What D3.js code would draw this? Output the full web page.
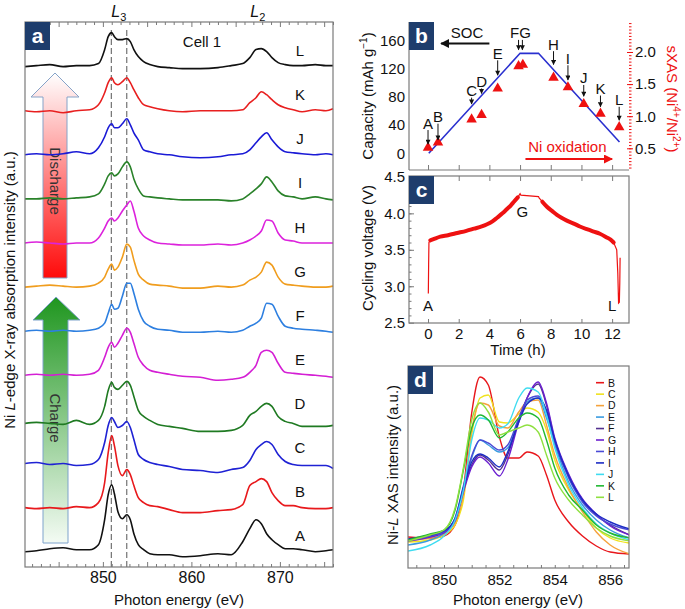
<!DOCTYPE html>
<html><head><meta charset="utf-8">
<script src="https://cdn.jsdelivr.net/npm/d3@7/dist/d3.min.js"></script>
<style>
body{margin:0;background:#fff}
svg{display:block}
text{font-family:"Liberation Sans",Arial,Helvetica,sans-serif;fill:#111}
</style>
</head><body>
<svg id="chart" width="685" height="609"></svg>
<script>
// ---------------- DATA ----------------
// Panel a: Ni L-edge sXAS spectra (intensity above own baseline, a.u.)
const energyA = [841.2, 842.5, 844, 845.5, 847, 848.5, 849.5, 850.2, 850.6, 851.0, 851.3, 851.7, 852.2, 852.7, 853.1, 853.5, 854.0, 854.6, 855.3, 856.2, 857.5, 859, 861, 863, 864.5, 865.8, 866.6, 867.3, 867.9, 868.5, 869.1, 869.8, 870.6, 871.5, 872.5, 874, 875.2, 876];
const specA = [0,1,3,4,2,2,7,32,57,67,58,40,33,37,32,18,7,2,-2,-3,-3,-5,-4,-2,-3,10,23,32,28,18,12,7,3,3,2,0,1,2];
const specB = [0,-1,0,-1,1,0,5,25,55,72,62,42,32,38,33,22,10,5,2,1,-2,-5,-5,-3,-2,3,22,26,29,26,15,7,2,2,0,-1,-1,0];
const specC = [0,1,-1,0,-2,-1,4,21,38,46,42,36,38,42,36,24,9,4,1,-1,-3,-6,-7,-9,-6,-4,3,14,19,22,19,9,2,-1,-2,-2,-2,-5];
const specD = [-4,-3,-4,-5,-1,-5,-1,13,29,37,32,30,34,38,34,23,9,3,-1,-5,-7,-9,-12,-12,-11,-6,4,8,13,16,13,3,-2,-4,-7,-7,-7,-6];
const specE = [0,1,0,1,0,1,5,18,28,33,28,32,40,47,43,32,18,10,5,3,1,-1,-2,-5,-4,-2,3,10,23,25,23,12,3,2,1,0,-1,-2];
const specF = [0,1,0,1,0,1,3,8,18,27,22,23,35,48,48,38,22,10,5,2,1,-1,-1,0,-1,1,5,8,13,28,27,15,5,3,2,1,0,-1];
const specG = [0,1,2,1,0,1,4,10,18,23,17,20,30,43,40,27,13,7,3,2,1,-1,-1,1,0,2,7,10,15,25,22,10,3,2,1,0,0,1];
const specH = [0,1,0,-1,0,0,5,15,22,25,22,25,32,38,42,32,15,7,3,0,-1,-2,-2,-1,-2,0,3,7,12,23,22,10,3,2,0,0,0,0];
const specI = [0,0,1,0,1,2,5,15,23,26,23,25,32,37,32,20,10,3,2,1,0,-1,-1,-1,-2,0,5,10,15,22,17,8,3,2,0,2,0,-1];
const specJ = [0,1,0,1,3,1,7,18,27,31,27,27,31,36,30,22,15,5,3,1,0,-2,-3,-2,0,1,5,12,18,22,15,8,3,2,1,0,1,0];
const specK = [0,-1,0,-2,0,1,6,18,28,33,28,26,29,33,28,21,13,6,4,2,0,-1,0,0,0,1,8,13,19,16,11,6,3,1,-1,1,0,2];
const specL = [0,1,2,0,1,1,3,17,30,34,30,27,27,28,25,17,10,5,2,0,-1,-2,-2,-1,1,3,9,17,18,15,9,4,2,1,1,2,1,1];
const spectraLabels = ["A","B","C","D","E","F","G","H","I","J","K","L"];
const spectraA = [specA, specB, specC, specD, specE, specF, specG, specH, specI, specJ, specK, specL];
const energyTicksA = [850, 860, 870];
const refEnergies = [850.95, 852.7];

// Panel b: capacity line and sXAS ratio
const capTime = [0.05, 6.0, 7.2, 12.48];
const capValue = [0, 142, 142, 16];
const sxasTime = [0, 0.65, 2.84, 3.49, 4.54, 5.9, 6.18, 8.18, 9.12, 10.15, 11.24, 12.46];
const sxasValue = [0.51, 0.59, 0.95, 1.02, 1.43, 1.78, 1.80, 1.60, 1.45, 1.19, 1.04, 0.83];
const sxasLabels = ["A","B","C","D","E","F","G","H","I","J","K","L"];
const capTicks = [0, 40, 80, 120, 160];
const sxasTicks = [0.5, 1.0, 1.5, 2.0];
const timeTicks = [0, 2, 4, 6, 8, 10, 12];

// Panel c: cycling voltage
const voltTime = [0.02, 0.04, 0.06, 0.15, 0.4, 0.8, 1.3, 1.9, 2.5, 3.0, 3.5, 3.85, 4.2, 4.5, 4.85, 5.15, 5.4, 5.6, 5.85, 6.0, 6.05, 7.2, 7.25, 7.45, 7.75, 8.1, 8.4, 8.7, 9.05, 9.5, 9.9, 10.4, 10.8, 11.2, 11.65, 11.9, 12.1, 12.3, 12.37, 12.42, 12.47, 12.5, 12.52];
const voltValue = [2.90, 3.30, 3.60, 3.63, 3.65, 3.68, 3.70, 3.73, 3.76, 3.79, 3.82, 3.85, 3.89, 3.94, 4.00, 4.06, 4.11, 4.16, 4.22, 4.27, 4.25, 4.23, 4.21, 4.16, 4.09, 4.03, 3.98, 3.94, 3.90, 3.86, 3.82, 3.78, 3.75, 3.72, 3.67, 3.64, 3.60, 3.50, 3.18, 2.77, 2.78, 3.05, 3.39];
const voltTicks = [2.5, 3.0, 3.5, 4.0, 4.5];

// Panel d: Ni-L3 XAS overlay
const energyD = [848.7, 849.5, 850.0, 850.4, 850.7, 851.0, 851.3, 851.6, 852.0, 852.3, 852.7, 853.0, 853.4, 853.7, 854.0, 854.5, 855.0, 855.5, 856.0, 856.7];
const dB = [31, 30, 32, 43, 78, 155, 191, 183, 131, 110, 110, 116, 112, 93, 68, 46, 32, 22, 16, 14];
const dC = [26, 28, 33, 43, 68, 133, 170, 173, 146, 145, 154, 160, 156, 138, 108, 78, 58, 40, 30, 25];
const dD = [28, 30, 34, 46, 73, 138, 165, 163, 142, 140, 156, 166, 168, 143, 113, 80, 56, 36, 23, 14];
const dE = [23, 28, 35, 50, 80, 110, 128, 123, 116, 120, 148, 166, 170, 150, 123, 86, 63, 48, 38, 30];
const dF = [28, 32, 36, 48, 78, 103, 113, 108, 98, 113, 148, 170, 184, 163, 128, 93, 68, 53, 43, 33];
const dG = [27, 31, 35, 47, 76, 101, 111, 105, 92, 108, 146, 170, 186, 165, 130, 94, 69, 54, 42, 33];
const dH = [28, 32, 36, 50, 82, 112, 128, 125, 118, 123, 150, 168, 172, 156, 126, 90, 66, 52, 44, 38];
const dI = [29, 33, 37, 49, 80, 106, 114, 110, 101, 116, 146, 164, 170, 158, 128, 92, 68, 54, 46, 39];
const dJ = [17, 23, 32, 48, 78, 128, 150, 148, 140, 144, 170, 180, 176, 153, 120, 83, 60, 44, 35, 28];
const dK = [28, 34, 38, 58, 98, 140, 153, 148, 130, 136, 150, 155, 150, 128, 100, 73, 58, 43, 35, 30];
const dL = [27, 33, 38, 60, 100, 148, 165, 156, 133, 136, 140, 143, 136, 113, 90, 68, 53, 40, 32, 27];
const seriesD = [dB, dC, dD, dE, dF, dG, dH, dI, dJ, dK, dL];
const seriesDLabels = ["B","C","D","E","F","G","H","I","J","K","L"];
const energyTicksD = [850, 852, 854, 856];

// ---------------- STYLE ----------------
const colorsA = {A:"#111111",B:"#e8191c",C:"#1f22d4",D:"#1f7a22",E:"#d41fd4",F:"#2d7fe0",G:"#f09d1e",H:"#dc22dc",I:"#2a822a",J:"#1a1ad6",K:"#e81f1f",L:"#111111"};
const colorsD = {B:"#e8161b",C:"#f0e21e",D:"#f5a23c",E:"#3a9be0",F:"#53318f",G:"#6b1fd0",H:"#4a4ad6",I:"#1c2cc4",J:"#3fdcf0",K:"#22b833",L:"#8fe040"};
const GRAY = "#7a7a7a";
const NAVY = "#1e3d6c";
const RED = "#ee1111";
const BLUE = "#2a30cf";

const svg = d3.select("#chart");
const defs = svg.append("defs");
function marker(id, color, w, h){
  defs.append("marker").attr("id", id).attr("viewBox","0 0 10 10").attr("refX",9).attr("refY",5)
    .attr("markerUnits","userSpaceOnUse").attr("markerWidth", w).attr("markerHeight", h).attr("orient","auto")
    .append("path").attr("d","M0,0 L10,5 L0,10 z").attr("fill", color);
}
marker("ahSmall","#111",6,5);
marker("ahBig","#111",9,9);
marker("ahRed",RED,10,9);

function cleanAxis(g, fs, color){
  g.select(".domain").remove();
  g.selectAll(".tick line").attr("stroke", color || GRAY);
  g.selectAll(".tick text").attr("font-size", fs).attr("fill", color || "#111")
    .attr("font-family", '"Liberation Sans",Arial,sans-serif');
}
function panelLabel(x, y, w, h, letter){
  svg.append("rect").attr("x",x).attr("y",y).attr("width",w).attr("height",h).attr("fill",NAVY);
  svg.append("text").attr("x",x+w/2).attr("y",y+h/2+7).attr("text-anchor","middle")
    .attr("font-size",21).attr("font-weight","bold").style("fill","#fff").text(letter);
}

// ---------------- PANEL A ----------------
const xA = d3.scaleLinear().domain([841.2, 876]).range([25, 333]);
const yA = d3.scaleLinear().domain([-15.3, 529.7]).range([567, 22]);
const STEP = 44.1;

// Arrows (decoration)
const gradR = defs.append("linearGradient").attr("id","gradDis").attr("x1",0).attr("y1",0).attr("x2",0).attr("y2",1);
gradR.append("stop").attr("offset","0%").attr("stop-color","#ffffff");
gradR.append("stop").attr("offset","100%").attr("stop-color","#ff0a0a");
const gradG = defs.append("linearGradient").attr("id","gradCh").attr("x1",0).attr("y1",0).attr("x2",0).attr("y2",1);
gradG.append("stop").attr("offset","0%").attr("stop-color","#1f961f");
gradG.append("stop").attr("offset","100%").attr("stop-color","#f4fbf4");
svg.append("polygon").attr("points","55,73 31,97 43,97 43,278 67,278 67,97 79,97")
  .attr("fill","url(#gradDis)").attr("stroke","#86a3c8").attr("stroke-width",1);
svg.append("polygon").attr("points","56,297 33,320 43,320 43,543 68,543 68,320 80,320")
  .attr("fill","url(#gradCh)").attr("stroke","#7fa3cc").attr("stroke-width",1);
svg.append("text").attr("transform","translate(50,181) rotate(90)").attr("text-anchor","middle")
  .attr("font-size",15).style("fill","#333").text("Discharge");
svg.append("text").attr("transform","translate(50,418) rotate(90)").attr("text-anchor","middle")
  .attr("font-size",15).style("fill","#333").text("Charge");

// reference dashed lines
refEnergies.forEach(e => {
  svg.append("line").attr("x1",xA(e)).attr("x2",xA(e)).attr("y1",30).attr("y2",567)
    .attr("stroke","#555").attr("stroke-width",1).attr("stroke-dasharray","6,3");
});

// spectra
spectraA.forEach((s, i) => {
  const line = d3.line().x((d, j) => xA(energyA[j])).y(d => yA(d + i*STEP)).curve(d3.curveMonotoneX);
  svg.append("path").datum(s).attr("d", line).attr("fill","none")
    .attr("stroke", colorsA[spectraLabels[i]]).attr("stroke-width",1.6).attr("stroke-linejoin","round");
  svg.append("text").attr("x",300).attr("y",yA(i*STEP)-10.5).attr("text-anchor","middle")
    .attr("font-size",15).text(spectraLabels[i]);
});

// frame + axes
svg.append("rect").attr("x",25).attr("y",22).attr("width",308).attr("height",545)
  .attr("fill","none").attr("stroke",GRAY).attr("stroke-width",1.2);
const axAb = svg.append("g").attr("transform","translate(0,567)")
  .call(d3.axisBottom(xA).tickValues(d3.range(842, 877)).tickSizeInner(-3).tickSizeOuter(0)
    .tickPadding(5).tickFormat(d => energyTicksA.includes(d) ? d : ""));
cleanAxis(axAb, 16);
axAb.selectAll(".tick line").filter(d => d % 5 === 0).attr("y2", -5);
const axAt = svg.append("g").attr("transform","translate(0,22)")
  .call(d3.axisTop(xA).tickValues(d3.range(842, 877)).tickSizeInner(-3).tickSizeOuter(0).tickFormat(""));
cleanAxis(axAt, 16);
axAt.selectAll(".tick line").filter(d => d % 5 === 0).attr("y2", 5);

panelLabel(25, 22, 25, 28, "a");
svg.append("text").attr("x",202).attr("y",47).attr("text-anchor","middle").attr("font-size",15).text("Cell 1");
// L3 / L2 labels
[["3", 851.8], ["2", 867.5]].forEach(([sub, e]) => {
  const t = svg.append("text").attr("x", xA(e)).attr("y", 17).attr("text-anchor","middle").attr("font-size",16);
  t.append("tspan").attr("font-style","italic").text("L");
  t.append("tspan").attr("font-size",11).attr("dy",4).text(sub);
});
svg.append("text").attr("x",179).attr("y",605).attr("text-anchor","middle").attr("font-size",15)
  .text("Photon energy (eV)");
{
  const t = svg.append("text").attr("transform","translate(15,290) rotate(-90)").attr("text-anchor","middle").attr("font-size",15);
  t.append("tspan").text("Ni ");
  t.append("tspan").attr("font-style","italic").text("L");
  t.append("tspan").text("-edge X-ray absorption intensity (a.u.)");
}

// ---------------- PANEL B ----------------
const xT = d3.scaleLinear().domain([-1.24, 13.1]).range([409, 629]);
const yCap = d3.scaleLinear().domain([-23.7, 186.5]).range([170, 22]);
const ySX = d3.scaleLinear().domain([0.162, 2.467]).range([170, 22]);

svg.append("line").attr("x1",409).attr("x2",409).attr("y1",22).attr("y2",170).attr("stroke",GRAY).attr("stroke-width",1.2);
svg.append("line").attr("x1",409).attr("x2",629).attr("y1",170).attr("y2",170).attr("stroke",GRAY).attr("stroke-width",1.2);

const axBl = svg.append("g").attr("transform","translate(409,0)")
  .call(d3.axisLeft(yCap).tickValues(capTicks).tickSize(0).tickPadding(4));
cleanAxis(axBl, 15);
const axBb = svg.append("g").attr("transform","translate(0,170)")
  .call(d3.axisBottom(xT).tickValues(timeTicks).tickSizeInner(-5).tickSizeOuter(0).tickFormat(""));
cleanAxis(axBb, 15);
const axBrMinor = svg.append("g").attr("transform","translate(629,0)")
  .call(d3.axisRight(ySX).tickValues(d3.range(0.2, 2.46, 0.05)).tickSizeInner(2.5).tickSizeOuter(0).tickFormat(""));
cleanAxis(axBrMinor, 15, RED);
const axBr = svg.append("g").attr("transform","translate(629,0)")
  .call(d3.axisRight(ySX).tickValues(sxasTicks).tickSizeInner(4).tickSizeOuter(0).tickPadding(2).tickFormat(d3.format(".1f")));
cleanAxis(axBr, 15, RED);
axBr.selectAll(".tick line").attr("x1",-2);

// capacity line
svg.append("path").datum(capTime.map((t,i)=>[t, capValue[i]]))
  .attr("d", d3.line().x(d=>xT(d[0])).y(d=>yCap(d[1])))
  .attr("fill","none").attr("stroke",BLUE).attr("stroke-width",1.6);
// sXAS triangles
svg.selectAll(".tri").data(sxasTime.map((t,i)=>[t, sxasValue[i]])).enter().append("path")
  .attr("transform", d => `translate(${xT(d[0])},${ySX(d[1])})`)
  .attr("d", d3.symbol().type(d3.symbolTriangle).size(48)).attr("fill",RED);

// annotation arrows (positions in data units)
const annTime = [0, 0.65, 2.84, 3.49, 4.54, 5.9, 6.15, 8.18, 9.12, 10.15, 11.24, 12.46];
const annLabelCap = [43, 52, 89, 102, 142, 171, 171, 155, 135, 107, 92, 76];
const annTipCap = [13, 19, 70, 85, 111, 147, 147, 126, 104, 81, 66, 47];
annTime.forEach((t, i) => {
  svg.append("line").attr("x1",xT(t)).attr("x2",xT(t)).attr("y1",yCap(annLabelCap[i])+7).attr("y2",yCap(annTipCap[i]))
    .attr("stroke","#111").attr("stroke-width",1).attr("marker-end","url(#ahSmall)");
  const lab = sxasLabels[i];
  if (lab === "F") return;
  svg.append("text").attr("x", lab === "G" ? xT(6.03) : xT(t)).attr("y", yCap(annLabelCap[i]) + 5.5)
    .attr("text-anchor","middle").attr("font-size",15).text(lab === "G" ? "FG" : lab);
});

// SOC and Ni oxidation arrows
svg.append("text").attr("x",xT(2.54)).attr("y",yCap(171)+5).attr("text-anchor","middle").attr("font-size",15).text("SOC");
svg.append("line").attr("x1",xT(4.0)).attr("x2",xT(0.85)).attr("y1",43.5).attr("y2",43.5)
  .attr("stroke","#111").attr("stroke-width",2).attr("marker-end","url(#ahBig)");
svg.append("text").attr("x",xT(9.08)).attr("y",ySX(0.52)+5).attr("text-anchor","middle").attr("font-size",15)
  .style("fill",RED).text("Ni oxidation");
svg.append("line").attr("x1",xT(6.35)).attr("x2",xT(12.0)).attr("y1",ySX(0.333)).attr("y2",ySX(0.333))
  .attr("stroke",RED).attr("stroke-width",2.2).attr("marker-end","url(#ahRed)");

panelLabel(409, 22, 25, 28, "b");
{
  const t = svg.append("text").attr("transform","translate(373,96) rotate(-90)").attr("text-anchor","middle").attr("font-size",15);
  t.append("tspan").text("Capacity (mAh g");
  t.append("tspan").attr("font-size",10).attr("dy",-6).text("−1");
  t.append("tspan").attr("dy",6).text(")");
}
{
  const t = svg.append("text").attr("transform","translate(667,99) rotate(90)").attr("text-anchor","middle").attr("font-size",15).style("fill",RED);
  t.append("tspan").style("fill",RED).text("sXAS (Ni");
  t.append("tspan").style("fill",RED).attr("font-size",10).attr("dy",-6).text("4+");
  t.append("tspan").style("fill",RED).attr("dy",6).text("/Ni");
  t.append("tspan").style("fill",RED).attr("font-size",10).attr("dy",-6).text("2+");
  t.append("tspan").style("fill",RED).attr("dy",6).text(")");
}

// ---------------- PANEL C ----------------
const yV = d3.scaleLinear().domain([2.5, 4.5]).range([322.7, 176.9]);
svg.append("rect").attr("x",409).attr("y",176).attr("width",220).attr("height",147)
  .attr("fill","none").attr("stroke",GRAY).attr("stroke-width",1.2);
const axClMinor = svg.append("g").attr("transform","translate(409,0)")
  .call(d3.axisLeft(yV).tickValues(d3.range(2.6, 4.45, 0.1)).tickSizeInner(-2.5).tickSizeOuter(0).tickFormat(""));
cleanAxis(axClMinor, 15);
const axCl = svg.append("g").attr("transform","translate(409,0)")
  .call(d3.axisLeft(yV).tickValues(voltTicks).tickSizeInner(-5).tickSizeOuter(0).tickPadding(4).tickFormat(d3.format(".1f")));
cleanAxis(axCl, 15);
const axCb = svg.append("g").attr("transform","translate(0,323)")
  .call(d3.axisBottom(xT).tickValues(timeTicks).tickSizeInner(-4).tickSizeOuter(0).tickPadding(5));
cleanAxis(axCb, 15);
const axCt = svg.append("g").attr("transform","translate(0,176)")
  .call(d3.axisTop(xT).tickValues(timeTicks).tickSizeInner(-5).tickSizeOuter(0).tickFormat(""));
cleanAxis(axCt, 15);

const voltPts = voltTime.map((t,i)=>[t, voltValue[i]]);
const vLine = d3.line().x(d=>xT(d[0])).y(d=>yV(d[1]));
svg.append("path").datum(voltPts).attr("d", vLine).attr("fill","none").attr("stroke",RED).attr("stroke-width",1.2);
const vBand = d3.line().x(d=>xT(d[0])).y(d=>yV(d[1])).curve(d3.curveMonotoneX);
[[0.1, 5.95], [7.3, 12.12]].forEach(([a,b]) => {
  svg.append("path").datum(voltPts.filter(d => d[0] >= a && d[0] <= b)).attr("d", vBand)
    .attr("fill","none").attr("stroke",RED).attr("stroke-width",4).attr("stroke-linejoin","round").attr("stroke-linecap","round");
});
svg.append("text").attr("x",xT(0)).attr("y",yV(2.74)+5.5).attr("text-anchor","middle").attr("font-size",15).text("A");
svg.append("text").attr("x",xT(6.15)).attr("y",yV(4.03)+5.5).attr("text-anchor","middle").attr("font-size",15).text("G");
svg.append("text").attr("x",xT(12.0)).attr("y",yV(2.74)+5.5).attr("text-anchor","middle").attr("font-size",15).text("L");
panelLabel(409, 176, 25, 28, "c");
svg.append("text").attr("transform","translate(373,248) rotate(-90)").attr("text-anchor","middle").attr("font-size",15).text("Cycling voltage (V)");
svg.append("text").attr("x",518).attr("y",355).attr("text-anchor","middle").attr("font-size",15).text("Time (h)");

// ---------------- PANEL D ----------------
const xD = d3.scaleLinear().domain([848.7, 856.68]).range([408, 629]);
const yD = d3.scaleLinear().domain([0, 202]).range([568, 366]);
const clip = defs.append("clipPath").attr("id","clipD");
clip.append("rect").attr("x",408).attr("y",366).attr("width",221).attr("height",202);
const gD = svg.append("g").attr("clip-path","url(#clipD)");
seriesD.forEach((s, i) => {
  gD.append("path").datum(s)
    .attr("d", d3.line().x((d,j)=>xD(energyD[j])).y(d=>yD(d)).curve(d3.curveMonotoneX))
    .attr("fill","none").attr("stroke", colorsD[seriesDLabels[i]]).attr("stroke-width",1.4);
});
svg.append("rect").attr("x",408).attr("y",366).attr("width",221).attr("height",202)
  .attr("fill","none").attr("stroke",GRAY).attr("stroke-width",1.2);
const axDb = svg.append("g").attr("transform","translate(0,568)")
  .call(d3.axisBottom(xD).tickValues(d3.range(849, 856.6, 0.5)).tickSizeInner(-3).tickSizeOuter(0).tickPadding(6.5)
    .tickFormat(d => energyTicksD.includes(d) ? d : ""));
cleanAxis(axDb, 15);
// legend
seriesDLabels.forEach((lab, i) => {
  const y = 382.7 + i*11.46;
  svg.append("line").attr("x1",596).attr("x2",604).attr("y1",y).attr("y2",y)
    .attr("stroke", colorsD[lab]).attr("stroke-width",1.6);
  svg.append("text").attr("x",608).attr("y",y+3.8).attr("font-size",10.5).text(lab);
});
panelLabel(408, 366, 25, 28, "d");
svg.append("text").attr("x",518).attr("y",605).attr("text-anchor","middle").attr("font-size",15).text("Photon energy (eV)");
{
  const t = svg.append("text").attr("transform","translate(398,465) rotate(-90)").attr("text-anchor","middle").attr("font-size",15);
  t.append("tspan").text("Ni-");
  t.append("tspan").attr("font-style","italic").text("L");
  t.append("tspan").text(" XAS intensity (a.u.)");
}
</script>
</body></html>
